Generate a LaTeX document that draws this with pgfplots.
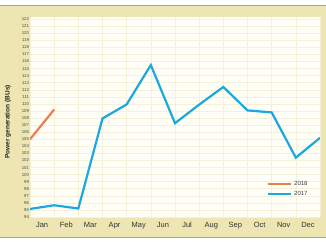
\documentclass[border=0pt]{standalone}
\usepackage{pgfplots}
\pgfplotsset{compat=1.18}
\usepackage{fontspec}
\setmainfont{Liberation Sans}
\definecolor{beige}{HTML}{EDE6B2}
\definecolor{plotbg}{HTML}{FFFEF7}
\definecolor{gridc}{HTML}{F5F0DA}
\definecolor{blue17}{HTML}{1BA8E0}
\definecolor{orange18}{HTML}{EE7D4C}
\begin{document}
\begin{tikzpicture}
\useasboundingbox (0,0) rectangle (326pt,245pt);
\fill[white] (0,0) rectangle (326pt,245pt);
\fill[beige] (0,7.5pt) rectangle (326pt,240pt);
\draw[gray!70, line width=0.8pt] (0,240pt) -- (326pt,240pt);
\draw[gray!70, line width=0.8pt] (0,7.5pt) -- (326pt,7.5pt);
\begin{axis}[
  at={(30pt,28pt)}, anchor=south west,
  width=290pt, height=200pt, scale only axis,
  xmin=0, xmax=12, ymin=94, ymax=122.3,
  axis background/.style={fill=plotbg},
  axis line style={draw=none},
  tick style={draw=none},
  xtick={0.5,1.5,...,11.5},
  xticklabels={Jan,Feb,Mar,Apr,May,Jun,Jul,Aug,Sep,Oct,Nov,Dec},
  xticklabel style={font=\fontsize{7.5}{8}\selectfont, text=black!80, yshift=-2pt},
  ytick={94,95,...,122},
  yticklabel style={font=\fontsize{4.3}{5}\selectfont, text=black!70, xshift=2.5pt},
  /pgf/number format/assume math mode=true,
  extra x ticks={0,1,...,12},
  extra x tick labels={},
  extra x tick style={grid=major, major grid style={gridc, line width=0.6pt}},
  ymajorgrids, major grid style={gridc, line width=0.5pt},
  legend style={at={(0.975,0.08)}, anchor=south east, draw=none, fill=none,
    font=\fontsize{6}{7}\selectfont, text=black!75, row sep=0pt},
  legend cell align=left,
  legend image code/.code={\draw[#1] (0pt,0pt) -- (23pt,0pt);},
]
\addplot[orange18, line width=2.2pt] coordinates {(0,105.0) (1,109.2)};
\addlegendentry{2018}
\addplot[blue17, line width=2.2pt] coordinates {
(0,95.14) (1,95.66) (2,95.2) (3,107.94) (4,109.93) (5,115.5) (6,107.27)
(7,109.9) (8,112.4) (9,109.08) (10,108.8) (11,102.4) (12,105.2)};
\addlegendentry{2017}
\end{axis}
\node[rotate=90, font=\bfseries\fontsize{6.5}{7}\selectfont, text=black!85] at (8pt,123pt) {Power generation (BUs)};
\end{tikzpicture}
\end{document}
